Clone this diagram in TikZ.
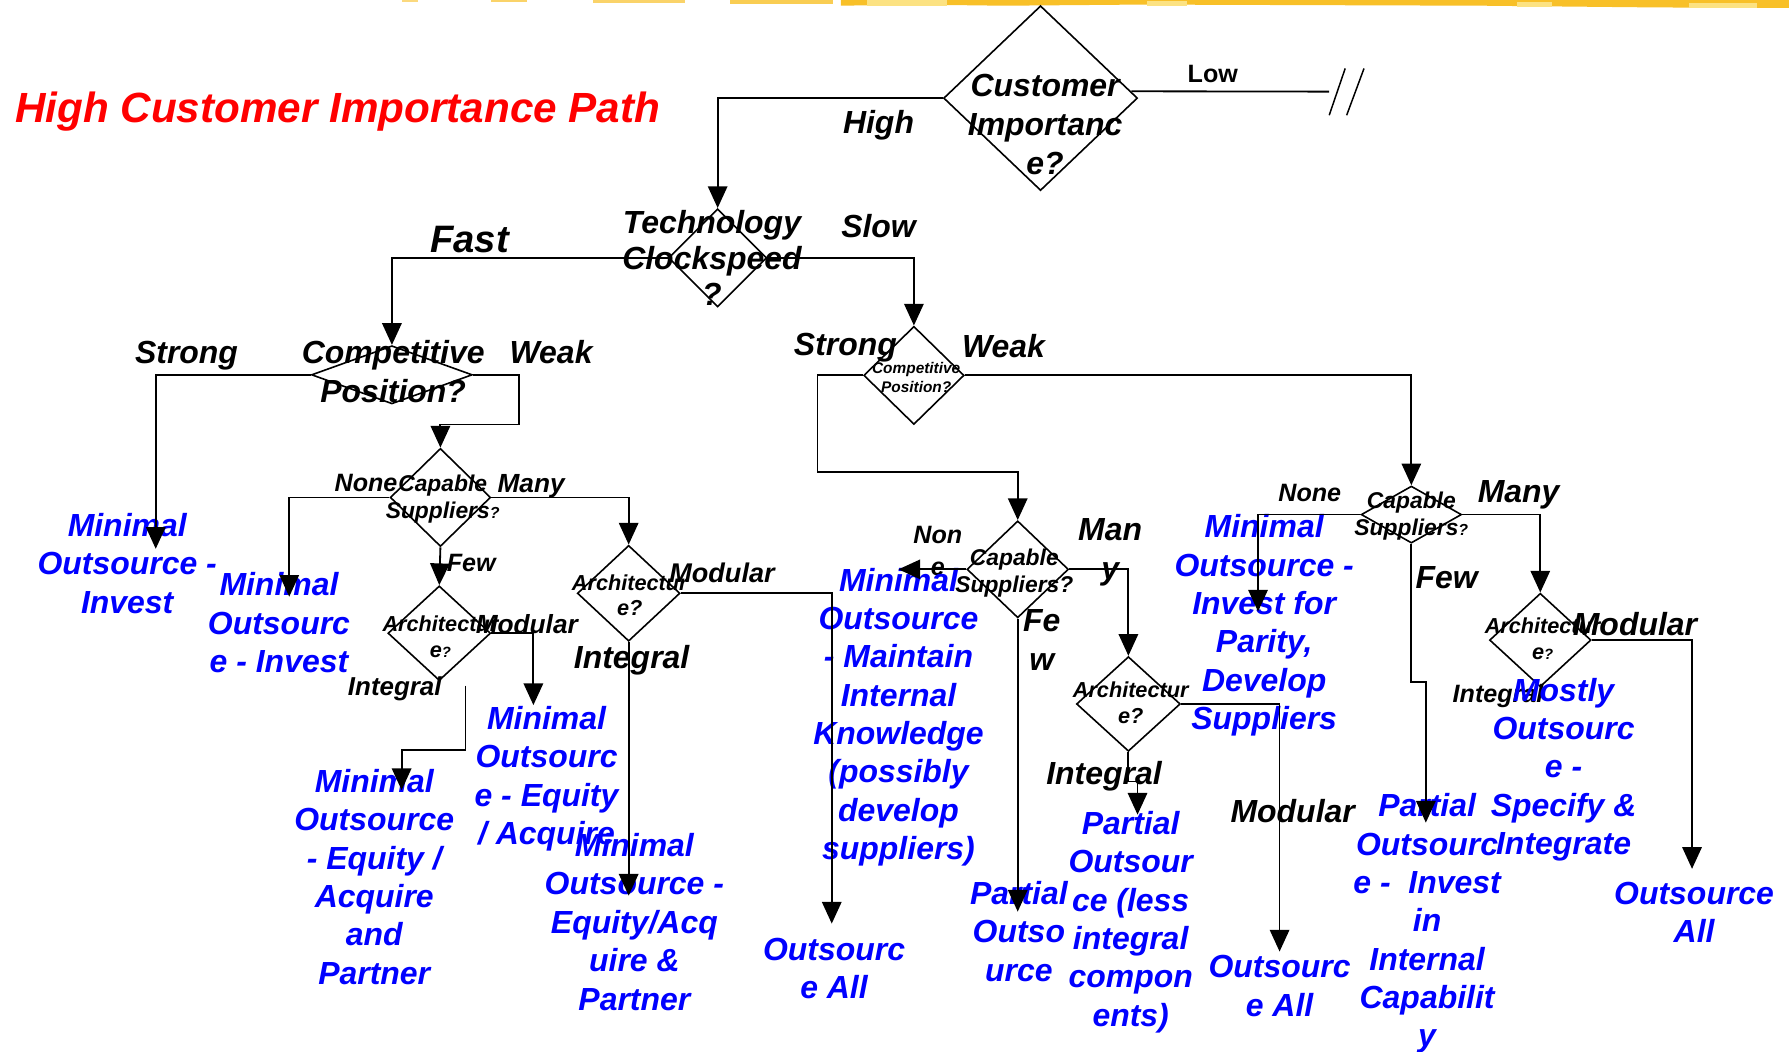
\documentclass[tikz,border=0pt]{standalone}
\usepackage{fontspec}
\setmainfont{Liberation Sans}
\usetikzlibrary{shapes.geometric,arrows.meta}
\definecolor{resblue}{RGB}{0,0,255}
\definecolor{ttlred}{RGB}{255,0,0}
\definecolor{gold}{RGB}{248,192,40}
\definecolor{palegold}{RGB}{252,226,130}
\begin{document}
\begin{tikzpicture}[x=1pt,y=-1pt,
  dia/.style={draw, shape=diamond, inner sep=0pt, line width=1.4pt},
  ln/.style={line width=1.6pt},
  arr/.style={line width=1.6pt, -{Triangle[width=17pt,length=19pt]}},
  res/.style={text=resblue, align=center, inner sep=0pt, font=\fontsize{28}{33.6}\selectfont\bfseries\itshape},
  lab/.style={inner sep=0pt, align=center, font=\fontsize{28}{33.8}\selectfont\bfseries\itshape},
  slab/.style={inner sep=0pt, align=center, font=\fontsize{22}{28}\selectfont\bfseries\itshape},
  dtx/.style={inner sep=0pt, align=center, font=\fontsize{20}{23.5}\selectfont\bfseries\itshape},
  atx/.style={inner sep=0pt, align=center, font=\fontsize{19}{22.5}\selectfont\bfseries\itshape}]
\useasboundingbox (0,0) rectangle (1568,922);
\fill[white] (0,0) rectangle (1568,922);
% top brush strip
\fill[gold!60] (352,0) rectangle (366,1.5);
\fill[gold!70] (430,0) rectangle (462,2);
\fill[gold!70] (520,0) rectangle (600,2.5);
\fill[gold!80] (640,0) rectangle (730,3.5);
\fill[gold] (737,0) -- (1568,0) -- (1568,7) -- (1450,6.5) -- (1300,5) -- (1150,4.5) -- (1000,4) -- (880,5) -- (800,4) -- (737,5) -- cycle;
\fill[palegold] (760,0) rectangle (830,5);
\fill[palegold] (1005,1) rectangle (1040,5);
\fill[palegold] (1330,2) rectangle (1360,6);
\fill[palegold] (1480,3) rectangle (1540,7);

% diamonds
\node[dia, minimum width=170pt, minimum height=162pt] (ci) at (912,86) {};
\node[dia, minimum width=86pt, minimum height=86pt] (tc) at (629,226) {};
\node[dia, minimum width=141pt, minimum height=51pt] (cpL) at (343.5,328.5) {};
\node[dia, minimum width=88pt, minimum height=86pt] (cpR) at (801,329) {};
\node[dia, minimum width=88pt, minimum height=86pt] (csL) at (386,436) {};
\node[dia, minimum width=90pt, minimum height=83pt] (aL1) at (385,555) {};
\node[dia, minimum width=90pt, minimum height=84pt] (aL2) at (551,520) {};
\node[dia, minimum width=89pt, minimum height=85pt] (csM) at (892,499) {};
\node[dia, minimum width=91pt, minimum height=83pt] (aR1) at (989,617) {};
\node[dia, minimum width=88pt, minimum height=50pt] (csR) at (1237,451) {};
\node[dia, minimum width=89pt, minimum height=82pt] (aR2) at (1350,561) {};

% top texts
\node[lab, text=ttlred, font=\fontsize{37}{44}\selectfont\bfseries\itshape] (ttl) at (296,98.5) {\strut High Customer Importance Path};
\node[lab] (ciT) at (916,112) {\strut Customer\\Importanc\\e?\strut};
\node[lab] (hiL) at (770,110) {\strut High};
\node[inner sep=0pt, font=\fontsize{22}{26}\selectfont\bfseries] (loL) at (1063,67.5) {\strut Low};
\node[lab, font=\fontsize{28}{31.4}\selectfont\bfseries\itshape] (tcT) at (624,230) {\strut Technology\\Clockspeed\\?\strut};
\node[lab, font=\fontsize{33.5}{40}\selectfont\bfseries\itshape] (faL) at (411.6,213) {\strut Fast};
\node[lab] (slL) at (770,201) {\strut Slow};
\node[lab] (stL) at (163.5,312) {\strut Strong};
\node[lab, font=\fontsize{28}{34.3}\selectfont\bfseries\itshape] (cpLT) at (344.6,329) {\strut Competitive\\Position?\strut};
\node[lab] (wkL) at (483,312) {\strut Weak};
\node[lab] (stR) at (741,305) {\strut Strong};
\node[lab] (wkR) at (879.5,307) {\strut Weak};
\node[inner sep=0pt, align=center, font=\fontsize{13.5}{16.7}\selectfont\bfseries\itshape] (cpRT) at (803,332.5) {\strut Competitive\\Position?\strut};

% left subtree texts
\node[res] (rA) at (111.5,497) {\strut Minimal\\Outsource -\\Invest\strut};
\node[dtx] (csLT) at (388,438) {\strut Capable\\Suppliers{\fontsize{14}{16}\selectfont ?}\strut};
\node[slab] (noL) at (320.8,425.5) {\strut None};
\node[slab, font=\fontsize{23}{28}\selectfont\bfseries\itshape] (maL) at (465.5,426) {\strut Many};
\node[slab] (feL) at (413,495) {\strut Few};
\node[res] (rB) at (244.5,549) {\strut Minimal\\Outsourc\\e - Invest\strut};
\node[atx] (aL1T) at (386,560.5) {\strut Architectur\\e{\fontsize{13}{15}\selectfont ?}\strut};
\node[slab, font=\fontsize{23}{28}\selectfont\bfseries\itshape] (moL1) at (461.7,549.5) {\strut Modular};
\node[slab, font=\fontsize{22.7}{27}\selectfont\bfseries\itshape] (inL1) at (346,604.5) {\strut Integral};
\node[res] (rC) at (479,683) {\strut Minimal\\Outsourc\\e - Equity\\/ Acquire\strut};
\node[res] (rD) at (328,772) {\strut Minimal\\Outsource\\- Equity /\\Acquire\\and\\Partner\strut};
\node[atx] (aL2T) at (552,524) {\strut Architectur\\e?\strut};
\node[slab, font=\fontsize{23.7}{28}\selectfont\bfseries\itshape] (moL2) at (632.8,505) {\strut Modular};
\node[lab] (inL2) at (553.6,579) {\strut Integral};
\node[res] (rE) at (731,851.7) {\strut Outsourc\\e All\strut};
\node[res] (rF) at (556,811.3) {\strut Minimal\\Outsource -\\Equity/Acq\\uire \&\\Partner\strut};

% right subtree texts
\node[dtx] (csMT) at (889,502.6) {\strut Capable\\Suppliers?\strut};
\node[slab] (noM) at (822,484.4) {\strut Non\\e\strut};
\node[lab] (maM) at (973,484) {\strut Man\\y\strut};
\node[lab] (feM) at (913,563.6) {\strut Fe\\w\strut};
\node[res] (rG) at (787.5,629) {\strut Minimal\\Outsource\\- Maintain\\Internal\\Knowledge\\(possibly\\develop\\suppliers)\strut};
\node[atx] (aR1T) at (991,618) {\strut Architectur\\e?\strut};
\node[lab] (inR1) at (967.6,680.8) {\strut Integral};
\node[lab] (moR1) at (1133,714.3) {\strut Modular};
\node[res] (rH) at (893,819.5) {\strut Partial\\Outso\\urce\strut};
\node[res] (rI) at (991,808.8) {\strut Partial\\Outsour\\ce (less\\integral\\compon\\ents)\strut};
\node[res] (rJ) at (1121.5,867) {\strut Outsourc\\e All\strut};
\node[dtx] (csRT) at (1237,452.8) {\strut Capable\\Suppliers{\fontsize{14}{16}\selectfont ?}\strut};
\node[slab] (noR) at (1148,434) {\strut None};
\node[lab] (maR) at (1331,434) {\strut Many};
\node[lab] (feR) at (1268,509) {\strut Few};
\node[res] (rK) at (1108,548.6) {\strut Minimal\\Outsource -\\Invest for\\Parity,\\Develop\\Suppliers\strut};
\node[atx] (aR2T) at (1352,562) {\strut Architectur\\e{\fontsize{13}{15}\selectfont ?}\strut};
\node[lab] (moR2) at (1433,550) {\strut Modular};
\node[slab] (inR2) at (1313,610.5) {\strut Integral};
\node[res] (rL) at (1370.4,675) {\strut Mostly\\Outsourc\\e -\\Specify \&\\Integrate\strut};
\node[res] (rM) at (1250.8,810) {\strut Partial\\Outsourc\\e -\ \ Invest\\in\\Internal\\Capabilit\\y\strut};
\node[res] (rN) at (1484.8,802.7) {\strut Outsource\\All\strut};

% free ends and bends
\coordinate (lowEnd) at (1165,80.3);
\coordinate (tA) at (136.5,481);
\coordinate (w1) at (455,372);
\coordinate (tB) at (253.5,523);
\coordinate (tC) at (467.5,618);
\coordinate (s1) at (408,601);
\coordinate (w3) at (408,657);
\coordinate (tD) at (352,692.5);
\coordinate (tE) at (729,809.5);
\coordinate (tF) at (551,785);
\coordinate (w2) at (716.5,413.5);
\coordinate (tG) at (787.5,499);
\coordinate (tH) at (892,799);
\coordinate (w4) at (989,685);
\coordinate (tI) at (997,714);
\coordinate (tJ) at (1121.5,834);
\coordinate (tK) at (1102.6,536);
\coordinate (w5) at (1237,597.7);
\coordinate (tL) at (1249.7,721);
\coordinate (tM) at (1483,761.5);

% connectors
\draw[arr] (ci.west) -| (tc.north);
\draw[ln] ([xshift=-6pt,yshift=6pt]ci.east) -- (lowEnd);
\draw[line width=1.3pt] (1165,101) -- (1179,60);
\draw[line width=1.3pt] (1180.3,101) -- (1195.5,60);
\draw[arr] (tc.west) -| (cpL.north);
\draw[arr] (tc.east) -| (cpR.north);
\draw[arr] (cpL.west) -| (tA);
\draw[arr] (cpL.east) -| (w1) -| (csL.north);
\draw[arr] (csL.west) -| (tB);
\draw[arr] (csL.east) -| (aL2.north);
\draw[arr] (csL.south) -- (aL1.north);
\draw[arr] (aL1.east) -| (tC);
\draw[arr] (s1) -- (w3) -| (tD);
\draw[arr] (aL2.east) -| (tE);
\draw[arr] (aL2.south) -- (tF);
\draw[arr] (cpR.west) -| (w2) -| (csM.north);
\draw[arr] (cpR.east) -| (csR.north);
\draw[arr] (csM.west) -- (tG);
\draw[arr] (csM.east) -| (aR1.north);
\draw[arr] (csM.south) -- (tH);
\draw[arr] (aR1.south) -- (w4) -| (tI);
\draw[arr] (aR1.east) -| (tJ);
\draw[arr] (csR.west) -| (tK);
\draw[arr] (csR.east) -| (aR2.north);
\draw[arr] (csR.south) -- (w5) -| (tL);
\draw[arr] (aR2.east) -| (tM);
\end{tikzpicture}
\end{document}
